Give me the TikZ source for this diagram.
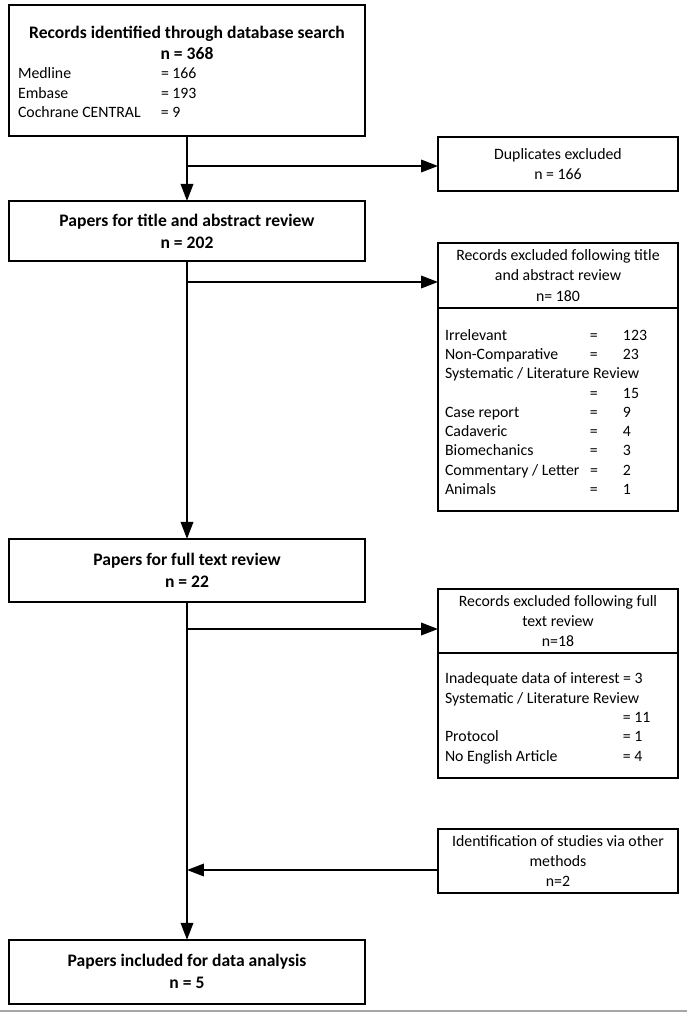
\documentclass[tikz,border=0pt]{standalone}
\usepackage{fontspec}
\setmainfont{Carlito}
\usepackage{array}
\usetikzlibrary{positioning,arrows.meta}

\begin{document}
\begin{tikzpicture}[x=0.02cm,y=-0.02cm,line width=1.1pt,
	>={Triangle[length=0.34cm,width=0.25cm]},
	mainbox/.style={rectangle,draw,outer sep=0pt,minimum width=7.12cm,align=center,
		font=\fontsize{10}{12.5}\selectfont\bfseries},
	sidebox/.style={rectangle,draw,outer sep=0pt,minimum width=4.8cm,align=center,
		font=\fontsize{9}{11.5}\selectfont},
	listbox/.style={rectangle,draw,outer sep=0pt,inner xsep=0.14cm,text width=4.52cm,
		align=flush left,font=\fontsize{9}{11}\selectfont}]
\useasboundingbox (0,0) rectangle (687,1014);
%% Main column
   \node [mainbox,minimum height=2.62cm,font=\fontsize{9}{11}\selectfont] (b1) at (187,70.5)
	{\begin{tabular}{@{}p{2.86cm}@{}p{3.9cm}@{}}
	\noalign{\vskip 0.14cm}
	\multicolumn{2}{@{}c@{}}{\fontsize{10}{12}\selectfont\bfseries Records identified through database search}\\[1pt]
	\multicolumn{2}{@{}c@{}}{\fontsize{10}{12}\selectfont\bfseries n = 368}\\
	Medline & = 166\\
	Embase & = 193\\
	Cochrane CENTRAL & = 9
	\end{tabular}};
   \node [mainbox,minimum height=1.2cm]	(b2)	[below=1.3cm of b1]	{Papers for title and abstract review\\ n = 202};
   \node [mainbox,minimum height=1.26cm]	(b3)	[below=5.56cm of b2]	{Papers for full text review\\ n = 22};
   \node [mainbox,minimum height=1.28cm]	(b4)	[below=6.76cm of b3]	{Papers included for data analysis\\ n = 5};
%% Side boxes
   \node [sidebox,minimum height=1.08cm]	(dup)	at (558,164)	{Duplicates excluded\\ n = 166};
   \node [sidebox,minimum height=1.3cm]	(ex1)	at (558,275.5)	{Records excluded following title\\ and abstract review\\ n= 180};
   \node [listbox,minimum height=4.06cm]	(ex1l)	[below=0pt of ex1]
	{\begin{tabular}{@{}p{2.9cm}@{}p{0.66cm}@{}l@{}}
	\noalign{\vskip 0.16cm}
	Irrelevant & = & 123\\
	Non-Comparative & = & 23\\
	\multicolumn{3}{@{}l@{}}{Systematic / Literature Review}\\
	& = & 15\\
	Case report & = & 9\\
	Cadaveric & = & 4\\
	Biomechanics & = & 3\\
	Commentary / Letter & = & 2\\
	Animals & = & 1
	\end{tabular}};
   \node [sidebox,minimum height=1.28cm]	(ex2)	at (558,621)	{Records excluded following full\\ text review\\ n=18};
   \node [listbox,minimum height=2.5cm]	(ex2l)	[below=0pt of ex2]
	{\begin{tabular}{@{}p{3.56cm}@{}l@{}}
	\noalign{\vskip 0.12cm}
	\multicolumn{2}{@{}l@{}}{Inadequate data of interest = 3}\\
	\multicolumn{2}{@{}l@{}}{Systematic / Literature Review}\\
	& = 11\\
	Protocol & = 1\\
	No English Article & = 4
	\end{tabular}};
   \node [sidebox,minimum height=1.28cm]	(oth)	at (558,861)	{Identification of studies via other\\ methods\\ n=2};
%% Connectors
   \coordinate (j1) at (187,166);
   \coordinate (j2) at (187,282);
   \coordinate (j3) at (187,629);
   \coordinate (j4) at (187,870);
   \draw [->] (b1.south) -- (b2.north);
   \draw [->] (b2.south) -- (b3.north);
   \draw [->] (b3.south) -- (b4.north);
   \draw [->] (j1) -- (j1 -| dup.west);
   \draw [->] (j2) -- (j2 -| ex1.west);
   \draw [->] (j3) -- (j3 -| ex2.west);
   \draw [->] (j4 -| oth.west) -- (j4);
   \draw [gray!70,line width=0.6pt] (0,1011) -- (687,1011);
\end{tikzpicture}
\end{document}
